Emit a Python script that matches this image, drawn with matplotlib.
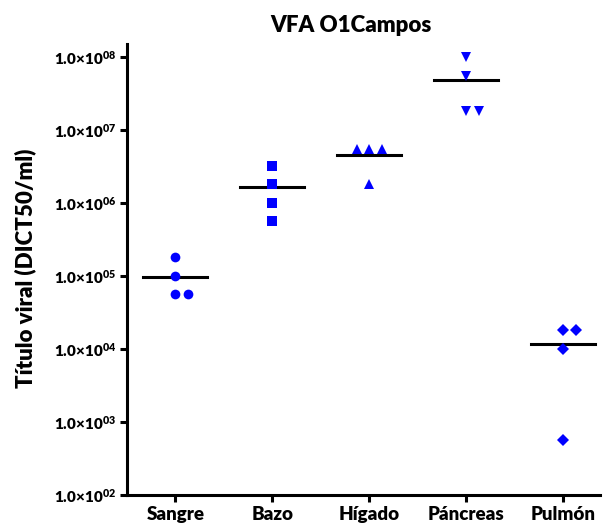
import matplotlib.pyplot as plt
import numpy as np

# --- data (DICT50/ml) --- #
categories = ['Sangre', 'Bazo', 'Hígado', 'Páncreas', 'Pulmón']
sangre = [1.8e5, 1.0e5, 5.7e4, 5.7e4]
bazo = [3.2e6, 1.8e6, 1.0e6, 5.6e5]
higado = [5.5e6, 5.5e6, 5.5e6, 1.8e6]
pancreas = [1.0e8, 5.6e7, 1.8e7, 1.8e7]
pulmon = [1.8e4, 1.8e4, 1.0e4, 5.6e2]
groups = [sangre, bazo, higado, pancreas, pulmon]
markers = ['o', 's', '^', 'v', 'D']
tick_exps = [2, 3, 4, 5, 6, 7, 8]

# Lato bold is lighter than Calibri bold, so go one step heavier
W = 'heavy'
plt.rcParams['font.family'] = 'Lato'
plt.rcParams['font.weight'] = W
plt.rcParams['mathtext.fontset'] = 'custom'
plt.rcParams['mathtext.rm'] = 'Lato:heavy'
plt.rcParams['mathtext.it'] = 'Lato:heavy'
plt.rcParams['mathtext.bf'] = 'Lato:heavy'


def spread(vals, step=0.13):
    # GraphPad-like: equal values are set side by side
    offs = []
    for i, v in enumerate(vals):
        same = [j for j, w in enumerate(vals) if w == v]
        k = same.index(i)
        n = len(same)
        if n % 2 == 1:
            offs.append((k - n // 2) * step)
        else:
            offs.append((k - n // 2 + 1) * step)
    return np.array(offs)


fig = plt.figure(figsize=(6.03, 5.26), dpi=100)
ax = fig.add_axes([127 / 603, 1 - 495 / 526, 473 / 603, 451 / 526])

for i, (vals, m) in enumerate(zip(groups, markers)):
    x = i + spread(vals)
    ms = 6.5 if m == 'D' else 7.5 if m in ('^', 'v') else 7
    ax.plot(x, vals, linestyle='none', marker=m, color='#0000ff',
            markersize=ms, markeredgewidth=0, zorder=3)
    ax.plot([i - 0.33, i + 0.33], [np.mean(vals)] * 2, color='black',
            lw=2.2, zorder=2)

ax.set_yscale('log')
ax.set_ylim(1e2, 10 ** 8.18)
ax.set_xlim(-0.5, 4.38)
ax.set_yticks([10.0 ** e for e in tick_exps])
ax.set_yticklabels(['1.0×10$^{%02d}$' % e for e in tick_exps],
                   fontsize=11, fontweight=W)
ax.yaxis.set_minor_locator(plt.NullLocator())
ax.set_xticks(range(len(categories)))
ax.set_xticklabels(categories, fontsize=13.5, fontweight=W)

for s in ['top', 'right']:
    ax.spines[s].set_visible(False)
for s in ['left', 'bottom']:
    ax.spines[s].set_linewidth(2.2)
ax.tick_params(axis='y', width=2.2, length=5, pad=3)
ax.tick_params(axis='x', width=2.2, length=5, pad=3)

fig.text(25 / 603, 1 - 268 / 526, 'Título viral (DICT50/ml)', rotation=90,
         ha='center', va='center', fontsize=16, fontweight=W)
fig.text(351 / 603, 1 - 32 / 526, 'VFA O1Campos', ha='center',
         va='baseline', fontsize=16, fontweight=W)

fig.savefig('out.png', dpi=100)
